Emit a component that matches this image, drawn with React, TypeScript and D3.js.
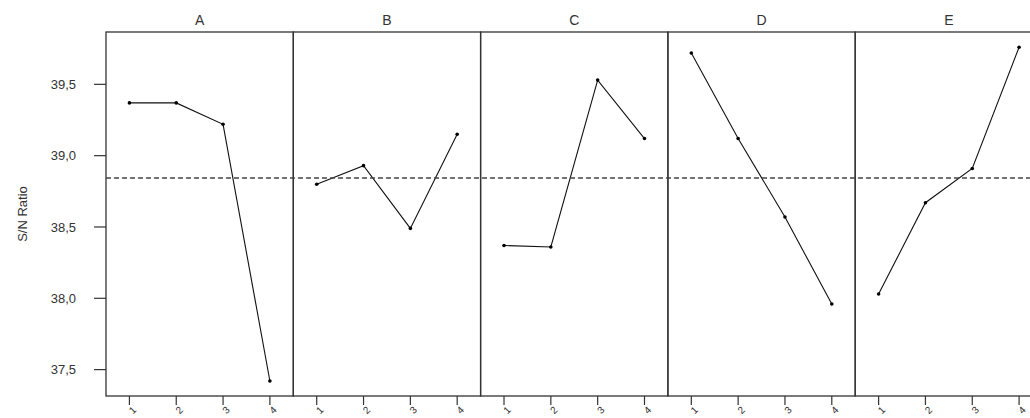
import React, { useRef, useEffect } from 'react';
import * as d3 from 'd3';

const factors = ['A', 'B', 'C', 'D', 'E'];
const levels = ['1', '2', '3', '4'];
const snA = [39.37, 39.37, 39.22, 37.42];
const snB = [38.8, 38.93, 38.49, 39.15];
const snC = [38.37, 38.36, 39.53, 39.12];
const snD = [39.72, 39.12, 38.57, 37.96];
const snE = [38.03, 38.67, 38.91, 39.76];
const yTicks = [37.5, 38.0, 38.5, 39.0, 39.5];
const series = [snA, snB, snC, snD, snE];

const App: React.FC = () => {
  const svgRef = useRef<SVGSVGElement>(null);

  useEffect(() => {
    if (!svgRef.current) return;
    const width = 1030;
    const height = 418;
    const margin = { top: 32, left: 106, bottom: 396 };
    const panelW = 187.3;

    const svg = d3.select(svgRef.current);
    svg.selectAll('*').remove();

    const y = d3.scaleLinear()
      .domain([37.315, 39.867])
      .range([margin.bottom, margin.top]);

    const mean = d3.mean(series.flat()) as number;
    const font = 'Liberation Sans, Arial, sans-serif';

    // y axis
    const yAxis = svg.append('g');
    yTicks.forEach(t => {
      yAxis.append('line')
        .attr('x1', margin.left - 12).attr('x2', margin.left)
        .attr('y1', y(t)).attr('y2', y(t))
        .attr('stroke', '#333').attr('stroke-width', 1.2);
      yAxis.append('text')
        .attr('x', 76).attr('y', y(t))
        .attr('dy', '0.35em')
        .attr('text-anchor', 'end')
        .attr('font-family', font)
        .attr('font-size', 13)
        .attr('fill', '#333')
        .text(d3.format('.1f')(t).replace('.', ','));
    });

    svg.append('text')
      .attr('transform', `translate(27,${(margin.top + margin.bottom) / 2}) rotate(-90)`)
      .attr('text-anchor', 'middle')
      .attr('font-family', font)
      .attr('font-size', 13)
      .attr('fill', '#333')
      .text('S/N Ratio');

    factors.forEach((f, i) => {
      const x0 = margin.left + i * panelW;
      const x = d3.scalePoint<string>()
        .domain(levels)
        .range([x0, x0 + panelW])
        .padding(0.5);

      const g = svg.append('g');

      g.append('rect')
        .attr('x', x0).attr('y', margin.top)
        .attr('width', panelW).attr('height', margin.bottom - margin.top)
        .attr('fill', 'none')
        .attr('stroke', '#333').attr('stroke-width', 1.3);

      g.append('text')
        .attr('x', x0 + panelW / 2).attr('y', 25)
        .attr('text-anchor', 'middle')
        .attr('font-family', font)
        .attr('font-size', 14)
        .attr('fill', '#333')
        .text(f);

      levels.forEach(l => {
        const xx = x(l) as number;
        g.append('line')
          .attr('x1', xx).attr('x2', xx)
          .attr('y1', margin.bottom).attr('y2', margin.bottom + 9)
          .attr('stroke', '#333').attr('stroke-width', 1.2);
        g.append('text')
          .attr('transform', `translate(${xx + 3},${margin.bottom + 14}) rotate(-45)`)
          .attr('text-anchor', 'middle')
          .attr('dy', '0.35em')
          .attr('font-family', font)
          .attr('font-size', 10)
          .attr('fill', '#333')
          .text(l);
      });

      const line = d3.line<number>()
        .x((_, j) => x(levels[j]) as number)
        .y(d => y(d));

      g.append('path')
        .datum(series[i])
        .attr('d', line)
        .attr('fill', 'none')
        .attr('stroke', '#111')
        .attr('stroke-width', 1.1);

      g.selectAll('circle')
        .data(series[i])
        .join('circle')
        .attr('cx', (_, j) => x(levels[j]) as number)
        .attr('cy', d => y(d))
        .attr('r', 1.8)
        .attr('fill', '#000');
    });

    svg.append('line')
      .attr('x1', margin.left).attr('x2', width)
      .attr('y1', y(mean)).attr('y2', y(mean))
      .attr('stroke', '#444')
      .attr('stroke-width', 1.3)
      .attr('stroke-dasharray', '5,3');

    svg.attr('width', width).attr('height', height);
  }, []);

  return (
    <svg
      ref={svgRef}
      width={1030}
      height={418}
      style={{ position: 'absolute', left: 0, top: 0, background: '#fff' }}
    />
  );
};

export default App;
